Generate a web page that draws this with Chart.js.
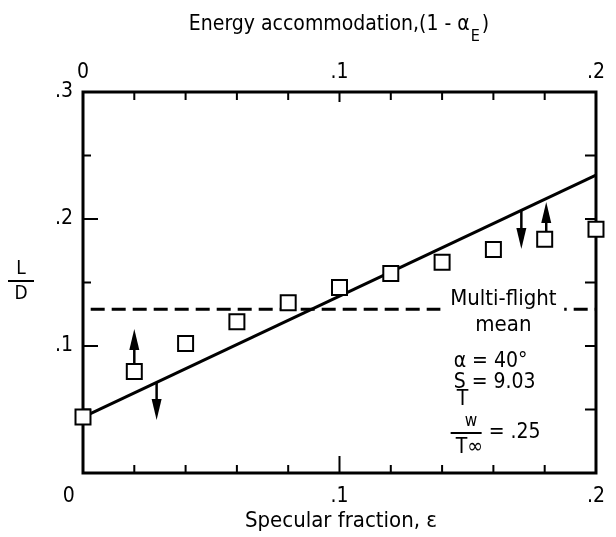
<!DOCTYPE html>
<html><head><meta charset="utf-8">
<script src="https://cdn.jsdelivr.net/npm/chart.js@4"></script>
<style>html,body{margin:0;padding:0;background:#fff}</style>
</head><body>
<canvas id="c" width="616" height="537"></canvas>
<script>
// ---- data ----
const specularFraction = [0, 0.02, 0.04, 0.06, 0.08, 0.10, 0.12, 0.14, 0.16, 0.18, 0.20];
const liftToDrag = [0.044, 0.080, 0.102, 0.119, 0.134, 0.146, 0.157, 0.166, 0.176, 0.184, 0.192];
const fitX = [0, 0.2];
const fitY = [0.044, 0.2346];
const meanX = [0.003, 0.2];
const meanY = [0.129, 0.129];
const arrowX = [0.02, 0.0287, 0.1709, 0.1806];
const arrowFrom = [0.0855, 0.0714, 0.2069, 0.1898];
const arrowTo = [0.1134, 0.0417, 0.1764, 0.2134];
const xTickLabels = ['0\u2003\u2002', '.1', '.2'];
const topTickLabels = ['0', '.1', '.2'];
const yTickLabels = ['', '.1', '.2', '.3'];
const xTickMarks = [0.02, 0.04, 0.06, 0.08, 0.10, 0.12, 0.14, 0.16, 0.18];
const yTickMarks = [0.05, 0.10, 0.15, 0.20, 0.25];

const FONT = '"Liberation Sans Narrow", "DejaVu Sans Condensed", "Arial Narrow", sans-serif';

function xy(xs, ys) { return xs.map((x, i) => ({x: x, y: ys[i]})); }

const framePlugin = {
  id: 'frame',
  beforeDatasetsDraw(chart) {
    const {ctx, chartArea: a, scales} = chart;
    ctx.save();
    ctx.strokeStyle = '#000';
    ctx.lineWidth = 3;
    ctx.strokeRect(a.left, a.top, a.right - a.left, a.bottom - a.top);
    ctx.lineWidth = 2;
    ctx.beginPath();
    xTickMarks.forEach(v => {
      const px = scales.x.getPixelForValue(v);
      const major = Math.abs(v - 0.1) < 1e-9;
      ctx.moveTo(px, a.bottom); ctx.lineTo(px, a.bottom - (major ? 17 : 8));
      ctx.moveTo(px, a.top); ctx.lineTo(px, a.top + (major ? 10 : 8));
    });
    yTickMarks.forEach(v => {
      const py = scales.y.getPixelForValue(v);
      const major = Math.abs(v - 0.1) < 1e-9 || Math.abs(v - 0.2) < 1e-9;
      ctx.moveTo(a.left, py); ctx.lineTo(a.left + (major ? 15 : 8), py);
      ctx.moveTo(a.right, py); ctx.lineTo(a.right - 11, py);
    });
    ctx.stroke();
    ctx.restore();
  },
  afterDatasetsDraw(chart) {
    const {ctx, scales} = chart;
    const sx = scales.x, sy = scales.y;
    ctx.save();
    ctx.fillStyle = '#000'; ctx.strokeStyle = '#000';
    arrowX.forEach((xv, i) => {
      const px = sx.getPixelForValue(xv);
      const p0 = sy.getPixelForValue(arrowFrom[i]);
      const p1 = sy.getPixelForValue(arrowTo[i]);
      const dir = p1 > p0 ? 1 : -1;
      const head = 21;
      ctx.lineWidth = 2.5;
      ctx.beginPath(); ctx.moveTo(px, p0); ctx.lineTo(px, p1 - dir * head + dir * 2); ctx.stroke();
      ctx.beginPath();
      ctx.moveTo(px, p1);
      ctx.lineTo(px - 5, p1 - dir * head);
      ctx.lineTo(px + 5, p1 - dir * head);
      ctx.closePath(); ctx.fill();
    });
    // gap in the dashed line for its label
    const bx0 = sx.getPixelForValue(0.1394), bx1 = sx.getPixelForValue(0.1876);
    const by = sy.getPixelForValue(0.129);
    ctx.fillStyle = '#fff';
    ctx.fillRect(bx0, by - 8, bx1 - bx0, 16);
    ctx.restore();
  },
  afterDraw(chart) {
    const {ctx, scales} = chart;
    const sx = scales.x, sy = scales.y;
    ctx.save();
    ctx.fillStyle = '#000';
    ctx.textBaseline = 'middle';
    // top title with subscript
    const big = '21px ' + FONT, small = '16px ' + FONT;
    const t1 = 'Energy accommodation,(1 - \u03b1', t2 = 'E', t3 = ')';
    ctx.font = big; const w1 = ctx.measureText(t1).width, w3 = ctx.measureText(t3).width;
    ctx.font = small; const w2 = ctx.measureText(t2).width;
    let x0 = 339 - (w1 + w2 + w3 + 3) / 2;
    ctx.textAlign = 'left';
    ctx.font = big; ctx.fillText(t1, x0, 25);
    ctx.font = small; ctx.fillText(t2, x0 + w1 + 1, 37);
    ctx.font = big; ctx.fillText(t3, x0 + w1 + w2 + 3, 25);
    // bottom title
    ctx.textAlign = 'center';
    ctx.font = '22px ' + FONT;
    ctx.fillText('Specular fraction, \u03b5', 341, 521);
    // L/D
    ctx.font = '19px ' + FONT;
    ctx.fillText('L', 21, 269);
    ctx.fillText('D', 21, 294);
    ctx.lineWidth = 2;
    ctx.beginPath(); ctx.moveTo(8, 281); ctx.lineTo(34, 281); ctx.stroke();
    // annotations
    ctx.font = '22px ' + FONT;
    ctx.fillText('Multi-flight', sx.getPixelForValue(0.1639), sy.getPixelForValue(0.137));
    ctx.fillText('mean', sx.getPixelForValue(0.1639), sy.getPixelForValue(0.1165));
    ctx.textAlign = 'left';
    ctx.font = '21px ' + FONT;
    const lx = sx.getPixelForValue(0.1445);
    ctx.fillText('\u03b1 = 40\u00b0', lx, sy.getPixelForValue(0.0874));
    ctx.fillText('S = 9.03', lx, sy.getPixelForValue(0.0709));
    ctx.fillText('T', lx + 3, sy.getPixelForValue(0.0575));
    ctx.font = '17px ' + FONT;
    ctx.fillText('w', lx + 11, sy.getPixelForValue(0.0401));
    ctx.font = '21px ' + FONT;
    const barY = sy.getPixelForValue(0.0315);
    ctx.beginPath(); ctx.moveTo(lx - 3, barY); ctx.lineTo(lx + 28, barY); ctx.stroke();
    ctx.fillText('T\u221e', lx + 2, sy.getPixelForValue(0.0197));
    ctx.fillText('= .25', lx + 35, sy.getPixelForValue(0.0315));
    ctx.restore();
  }
};

const tickFont = {family: FONT, size: 21};

new Chart(document.getElementById('c'), {
  type: 'scatter',
  data: {
    datasets: [
      {
        label: 'L/D', data: xy(specularFraction, liftToDrag), order: 0, clip: false,
        pointStyle: 'rect', pointRadius: 10.6, pointBorderWidth: 2,
        pointBackgroundColor: '#fff', pointBorderColor: '#000', showLine: false
      },
      {
        label: 'fit', data: xy(fitX, fitY), order: 1, showLine: true, pointRadius: 0,
        borderColor: '#000', borderWidth: 3, clip: false
      },
      {
        label: 'mean', data: xy(meanX, meanY), order: 2, showLine: true, pointRadius: 0,
        borderColor: '#000', borderWidth: 3, borderDash: [14, 7], clip: false
      }
    ]
  },
  options: {
    responsive: false, animation: false, devicePixelRatio: 1,
    layout: {padding: 0},
    plugins: {legend: {display: false}, tooltip: {enabled: false}, title: {display: false}},
    scales: {
      x: {
        type: 'linear', position: 'bottom', min: 0, max: 0.2,
        grid: {display: false, drawTicks: false}, border: {display: false},
        ticks: {stepSize: 0.1, padding: 11, color: '#000', font: tickFont,
          callback: (v, i) => xTickLabels[i]},
        afterFit: s => { s.height = 64; }
      },
      x2: {
        type: 'linear', position: 'top', min: 0, max: 0.2,
        grid: {display: false, drawTicks: false}, border: {display: false},
        ticks: {stepSize: 0.1, padding: 7, color: '#000', font: tickFont,
          callback: (v, i) => topTickLabels[i]},
        afterFit: s => { s.height = 92; }
      },
      y: {
        type: 'linear', position: 'left', min: 0, max: 0.3,
        grid: {display: false, drawTicks: false}, border: {display: false},
        ticks: {stepSize: 0.1, padding: 10, color: '#000', font: tickFont,
          callback: (v, i) => yTickLabels[i]},
        afterFit: s => { s.width = 83; }
      },
      y2: {
        type: 'linear', position: 'right', min: 0, max: 0.3,
        grid: {display: false, drawTicks: false}, border: {display: false},
        ticks: {display: false},
        afterFit: s => { s.width = 18; }
      }
    }
  },
  plugins: [framePlugin]
});
</script>
</body></html>
